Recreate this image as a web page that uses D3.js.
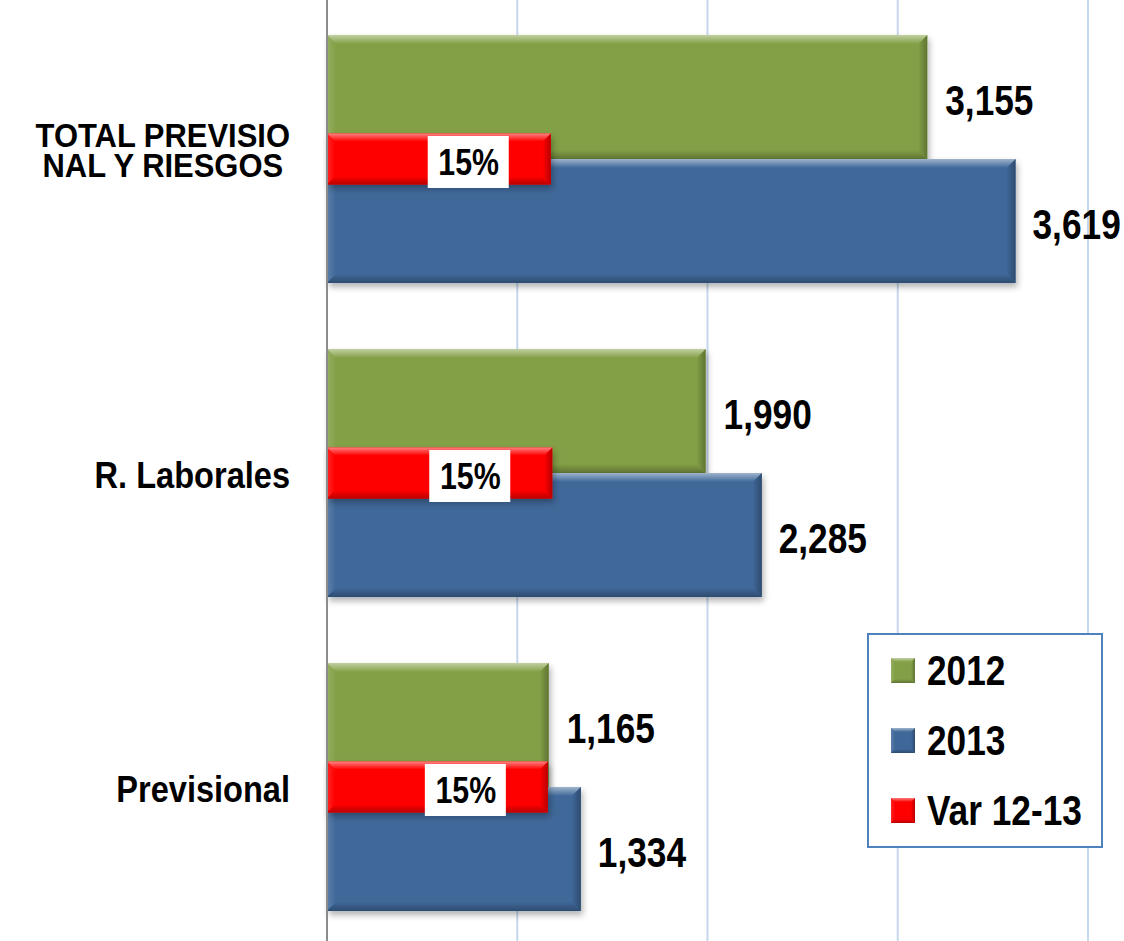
<!DOCTYPE html>
<html>
<head>
<meta charset="utf-8">
<script src="https://cdn.jsdelivr.net/npm/d3@7"></script>
<style>
  body { margin: 0; background: #fff; }
  svg text { font-family: "Liberation Sans", Arial, sans-serif; font-weight: bold; fill: #000; }
</style>
</head>
<body>
<svg></svg>
<script>
const width = 1124, height = 941;
const svg = d3.select("svg").attr("width", width).attr("height", height);

// data
const categories = ["TOTAL  PREVISIONAL Y RIESGOS", "R. Laborales", "Previsional"];
const categoryLines = [["TOTAL  PREVISIO", "NAL Y RIESGOS"], ["R. Laborales"], ["Previsional"]];
const values2012 = [3155, 1990, 1165];
const values2013 = [3619, 2285, 1334];
const variation = [0.147, 0.148, 0.1451];
const xTicks = [1000, 2000, 3000, 4000];
const seriesNames = ["2012", "2013", "Var 12-13"];
const seriesColors = ["#83a046", "#3f6899", "#ff0000"];

const narrow = 0.82; // no Arial Narrow here, squeeze Liberation Sans instead
const narrowCat = 0.88;

// scales
const x = d3.scaleLinear().domain([0, 4000]).range([327, 1088]);
const xVar = d3.scaleLinear().domain([0, 0.5]).range([327, 1088]); // secondary axis
const y = d3.scaleBand().domain(categories).range([2, 944]).paddingInner(0.21).paddingOuter(0.105);
const ySeries = d3.scaleBand().domain(["2012", "2013"]).range([0, y.bandwidth()]);
const varHeight = 51;

const defs = svg.append("defs");
const shadow = defs.append("filter").attr("id", "shadow")
    .attr("x", "-5%").attr("y", "-10%").attr("width", "115%").attr("height", "130%");
shadow.append("feDropShadow").attr("dx", 2).attr("dy", 4).attr("stdDeviation", 3)
    .attr("flood-color", "#000").attr("flood-opacity", 0.3);

// gradients for the bevel edges, one set per colour
function makeGrad(id, x1, y1, x2, y2, c1, c2) {
    const g = defs.append("linearGradient").attr("id", id)
        .attr("x1", x1).attr("y1", y1).attr("x2", x2).attr("y2", y2);
    g.append("stop").attr("offset", "0%").attr("stop-color", c1);
    g.append("stop").attr("offset", "100%").attr("stop-color", c2);
}
seriesColors.forEach((col, i) => {
    const light = d3.interpolateRgb(col, "#ffffff")(0.5);
    const dark = d3.color(col).darker(0.9).formatHex();
    makeGrad("top" + i, 0, 0, 0, 1, light, col);
    makeGrad("left" + i, 0, 0, 1, 0, d3.interpolateRgb(col, "#ffffff")(0.15), col);
    makeGrad("right" + i, 0, 0, 1, 0, col, dark);
    makeGrad("bottom" + i, 0, 0, 0, 1, col, dark);
});

// gridlines
svg.append("g")
    .selectAll("line")
    .data(xTicks)
    .enter().append("line")
    .attr("x1", d => x(d)).attr("x2", d => x(d))
    .attr("y1", 0).attr("y2", height)
    .attr("stroke", "#c5d7ee").attr("stroke-width", 2);

// bevelled bar: flat face plus light/dark edges
function bevelBar(g, x0, y0, w, h, si, b, withShadow) {
    const grp = g.append("g");
    grp.append("rect").attr("x", x0).attr("y", y0).attr("width", w).attr("height", h)
        .attr("fill", seriesColors[si]).attr("filter", withShadow ? "url(#shadow)" : null);
    const x1 = x0 + w, y1 = y0 + h;
    const poly = pts => pts.map(p => p.join(",")).join(" ");
    grp.append("polygon").attr("points", poly([[x0, y0], [x0 + b, y0 + b], [x0 + b, y1 - b], [x0, y1]]))
        .attr("fill", `url(#left${si})`);
    grp.append("polygon").attr("points", poly([[x1, y0], [x1, y1], [x1 - b, y1 - b], [x1 - b, y0 + b]]))
        .attr("fill", `url(#right${si})`);
    grp.append("polygon").attr("points", poly([[x0, y1], [x0 + b, y1 - b], [x1 - b, y1 - b], [x1, y1]]))
        .attr("fill", `url(#bottom${si})`);
    grp.append("polygon").attr("points", poly([[x0, y0], [x1, y0], [x1 - b, y0 + b], [x0 + b, y0 + b]]))
        .attr("fill", `url(#top${si})`);
    return grp;
}

// squeezed bold text
function label(g, tx, ty, str, size, anchor, sx) {
    return g.append("text")
        .attr("transform", `translate(${tx},${ty}) scale(${sx || narrow},1)`)
        .attr("text-anchor", anchor || "start")
        .style("font-size", size + "px")
        .text(str);
}

const bars = svg.append("g");
categories.forEach((cat, i) => {
    const top = y(cat);
    bevelBar(bars, x(0), top + ySeries("2012"), x(values2012[i]) - x(0), ySeries.bandwidth(), 0, 9, true);
    bevelBar(bars, x(0), top + ySeries("2013"), x(values2013[i]) - x(0), ySeries.bandwidth(), 1, 9, true);
});

// variation bars on the secondary axis, centred on the category
categories.forEach((cat, i) => {
    const cy = y(cat) + y.bandwidth() / 2;
    bevelBar(bars, xVar(0), cy - varHeight / 2, xVar(variation[i]) - xVar(0), varHeight, 2, 8, true);
});

// axis line
svg.append("line")
    .attr("x1", x(0)).attr("x2", x(0)).attr("y1", 0).attr("y2", height)
    .attr("stroke", "#8c8c8c").attr("stroke-width", 2);

// value labels
const labels = svg.append("g");
categories.forEach((cat, i) => {
    const top = y(cat);
    label(labels, x(values2012[i]) + 18, top + ySeries("2012") + ySeries.bandwidth() / 2 + 18,
        d3.format(",")(values2012[i]), 43);
    label(labels, x(values2013[i]) + 17, top + ySeries("2013") + ySeries.bandwidth() / 2 + 18,
        d3.format(",")(values2013[i]), 43);

    // white boxed percentage label
    const cy = top + y.bandwidth() / 2 + 3;
    const cx = xVar(variation[i]) - 82;
    labels.append("rect")
        .attr("x", cx - 41).attr("y", cy - 26).attr("width", 81).attr("height", 52)
        .attr("fill", "#fff");
    label(labels, cx, cy + 13, d3.format(".0%")(variation[i]), 37, "middle");
});

// category labels (wrapped lines are centred on each other, block right-aligned)
const catLabels = svg.append("g");
categories.forEach((cat, i) => {
    const lines = categoryLines[i];
    const cy = y(cat) + y.bandwidth() / 2;
    if (lines.length === 1) {
        label(catLabels, 290, cy + 15, lines[0], 37, "end", narrowCat);
    } else {
        const sx = 0.91;
        const t = catLabels.append("text")
            .attr("text-anchor", "middle")
            .style("font-size", "34px");
        const spans = lines.map((ln, j) => t.append("tspan")
            .attr("x", 0).attr("y", -12 + j * 30).text(ln));
        const w = d3.max(spans, s => s.node().getComputedTextLength()) * sx;
        t.attr("transform", `translate(${290 - w / 2},${cy}) scale(${sx},1)`);
    }
});

// legend
const legend = svg.append("g");
legend.append("rect")
    .attr("x", 868).attr("y", 634).attr("width", 234).attr("height", 213)
    .attr("fill", "#fff").attr("stroke", "#4f81bd").attr("stroke-width", 2);
seriesNames.forEach((name, i) => {
    const ly = 670 + i * 70;
    bevelBar(legend, 891, ly - 12, 24, 25, i, 4, false);
    label(legend, 927, ly + 15, name, 43);
});
</script>
</body>
</html>
